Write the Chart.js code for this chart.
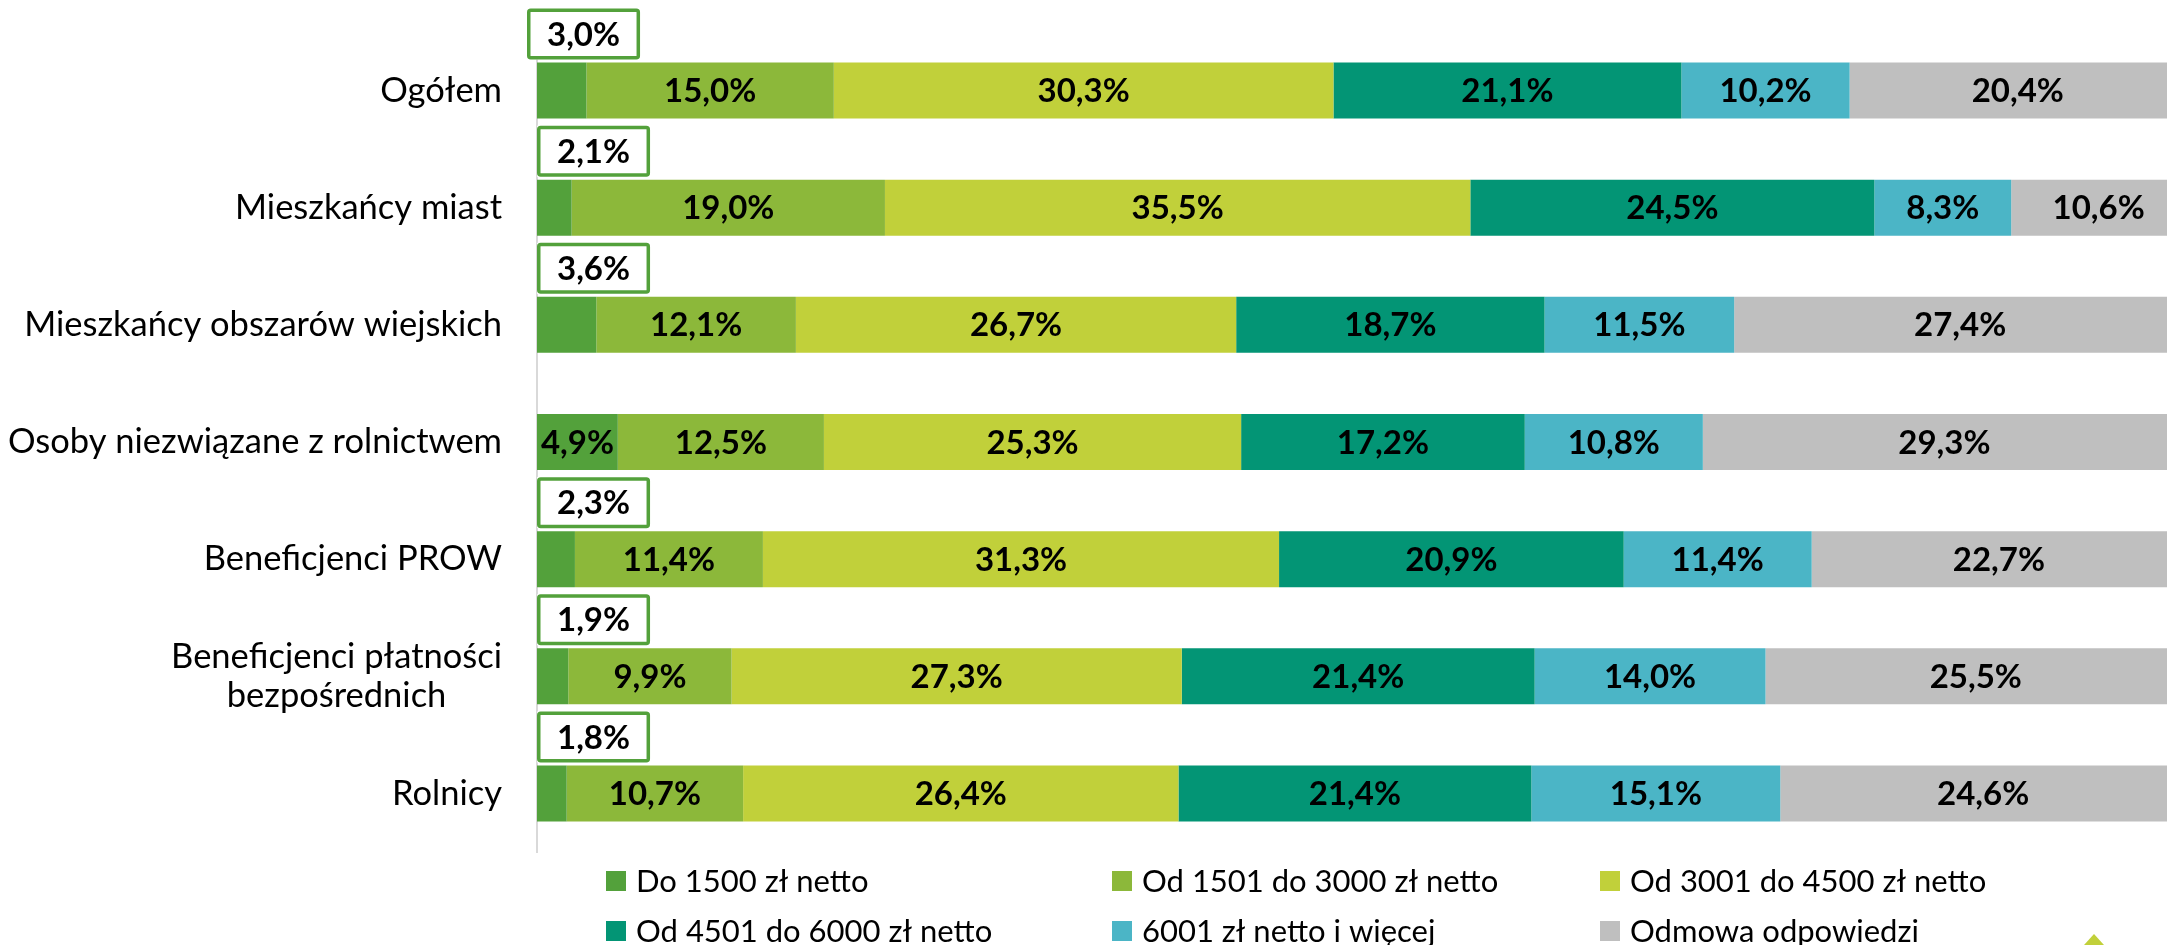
<!DOCTYPE html>
<html>
<head>
<meta charset="utf-8">
<script src="https://cdn.jsdelivr.net/npm/chart.js@4.4.1/dist/chart.umd.min.js"></script>
<style>
  html, body { margin: 0; padding: 0; background: #fff; overflow: hidden; }
  #wrap { position: relative; width: 2200px; height: 945px; }
</style>
</head>
<body>
<div id="wrap"><canvas id="incomeChart"></canvas></div>
<script>
const categories = [
  ['Ogółem'],
  ['Mieszkańcy miast'],
  ['Mieszkańcy obszarów wiejskich'],
  ['Osoby niezwiązane z rolnictwem'],
  ['Beneficjenci PROW'],
  ['Beneficjenci płatności', 'bezpośrednich'],
  ['Rolnicy']
];
const seriesNames = [
  'Do 1500 zł netto',
  'Od 1501 do 3000 zł netto',
  'Od 3001 do 4500 zł netto',
  'Od 4501 do 6000 zł netto',
  '6001 zł netto i więcej',
  'Odmowa odpowiedzi'
];
const upTo1500 = [3.0, 2.1, 3.6, 4.9, 2.3, 1.9, 1.8];
const from1501 = [15.0, 19.0, 12.1, 12.5, 11.4, 9.9, 10.7];
const from3001 = [30.3, 35.5, 26.7, 25.3, 31.3, 27.3, 26.4];
const from4501 = [21.1, 24.5, 18.7, 17.2, 20.9, 21.4, 21.4];
const over6000 = [10.2, 8.3, 11.5, 10.8, 11.4, 14.0, 15.1];
const refused = [20.4, 10.6, 27.4, 29.3, 22.7, 25.5, 24.6];
// rows where the first value sits inside its bar instead of in a box above it
const insideFirstLabel = [false, false, false, true, false, false, false];

const colors = ['#53a13b', '#8cb83a', '#c1d03a', '#039575', '#4bb5c6', '#bfbfbf'];
const FONT = 'Lato, "Noto Sans", sans-serif';

const fmt = v => v.toFixed(1).replace('.', ',') + '%';

const seriesData = [upTo1500, from1501, from3001, from4501, over6000, refused];

const chartData = {
  labels: categories,
  datasets: seriesData.map((d, i) => ({
    label: seriesNames[i],
    data: d,
    backgroundColor: colors[i],
    borderWidth: 0,
    barPercentage: 0.478,
    categoryPercentage: 1
  }))
};

const labelsPlugin = {
  id: 'labelsPlugin',
  afterDatasetsDraw(chart) {
    const ctx = chart.ctx;
    const yScale = chart.scales.y;
    ctx.save();

    // category labels
    ctx.fillStyle = '#000';
    ctx.font = '34.5px ' + FONT;
    ctx.textBaseline = 'middle';
    categories.forEach((lines, i) => {
      const cy = yScale.getPixelForValue(i);
      const lineH = 39;
      if (lines.length === 1) {
        ctx.textAlign = 'right';
        ctx.fillText(lines[0], 502, cy);
      } else {
        const widest = Math.max(...lines.map(l => ctx.measureText(l).width));
        const cx = 502 - widest / 2;
        ctx.textAlign = 'center';
        lines.forEach((l, k) => {
          ctx.fillText(l, cx, cy + (k - (lines.length - 1) / 2) * lineH);
        });
      }
    });

    // value labels
    ctx.font = 'bold 33px ' + FONT;
    chart.data.datasets.forEach((ds, di) => {
      const meta = chart.getDatasetMeta(di);
      meta.data.forEach((bar, i) => {
        const txt = fmt(ds.data[i]);
        const x0 = Math.min(bar.x, bar.base);
        const x1 = Math.max(bar.x, bar.base);
        const top = bar.y - bar.height / 2;
        if (di === 0 && !insideFirstLabel[i]) {
          const w = ctx.measureText(txt).width + 40;
          const h = 51;
          const left = i === 0 ? x0 - 10 : x0;
          const bTop = top - 3 - h;
          ctx.fillStyle = '#fff';
          ctx.fillRect(left, bTop, w, h);
          ctx.strokeStyle = '#53a13b';
          ctx.lineWidth = 3.5;
          ctx.beginPath();
          ctx.roundRect(left + 1.75, bTop + 1.75, w - 3.5, h - 3.5, 2);
          ctx.stroke();
          ctx.fillStyle = '#000';
          ctx.textAlign = 'center';
          ctx.fillText(txt, left + w / 2, bTop + h / 2 + 1);
        } else {
          ctx.fillStyle = '#000';
          ctx.textAlign = 'center';
          ctx.fillText(txt, (x0 + x1) / 2, bar.y + 1);
        }
      });
    });

    // legend, three columns
    const colX = [606, 1112, 1600];
    const rowY = [881, 931];
    ctx.font = '31px ' + FONT;
    ctx.textAlign = 'left';
    chart.data.datasets.forEach((ds, i) => {
      const x = colX[i % 3];
      const y = rowY[Math.floor(i / 3)];
      ctx.fillStyle = ds.backgroundColor;
      ctx.fillRect(x, y - 10, 20, 20);
      ctx.fillStyle = '#000';
      ctx.fillText(ds.label, x + 30, y + 1);
    });

    // small lime triangle in the corner
    ctx.fillStyle = '#c1d03a';
    ctx.beginPath();
    ctx.moveTo(2094, 934);
    ctx.lineTo(2114, 956);
    ctx.lineTo(2074, 956);
    ctx.closePath();
    ctx.fill();

    ctx.restore();
  }
};

new Chart(document.getElementById('incomeChart'), {
  type: 'bar',
  data: chartData,
  plugins: [labelsPlugin],
  options: {
    indexAxis: 'y',
    responsive: true,
    maintainAspectRatio: false,
    animation: false,
    layout: { padding: { left: 537, right: 14, top: 32, bottom: 93 } },
    scales: {
      x: {
        stacked: true,
        min: 0,
        max: 100,
        display: false
      },
      y: {
        stacked: true,
        display: true,
        ticks: { display: false },
        grid: { display: false, drawTicks: false },
        border: { display: true, color: '#d9d9d9', width: 2 }
      }
    },
    plugins: {
      legend: { display: false },
      tooltip: { enabled: false }
    }
  }
});
</script>
</body>
</html>
